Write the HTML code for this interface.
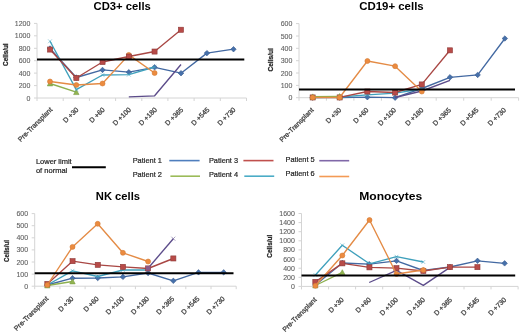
<!DOCTYPE html>
<html><head><meta charset="utf-8"><style>
html,body{margin:0;padding:0;background:#fff;width:520px;height:334px;overflow:hidden}
svg{display:block;will-change:transform;filter:blur(0.3px)}
</style></head><body>
<svg width="520" height="334" viewBox="0 0 520 334">
<rect width="520" height="334" fill="#fff"/>
<text x="93.5" y="10" textLength="57.30000000000001" lengthAdjust="spacingAndGlyphs" font-family='"Liberation Sans", sans-serif' font-weight="bold" font-size="11.5" fill="#000">CD3+ cells</text>
<line x1="37" y1="23.4" x2="37" y2="98" stroke="#D4D4D4" stroke-width="1"/>
<line x1="34" y1="98.0" x2="37" y2="98.0" stroke="#D4D4D4" stroke-width="1"/>
<text x="30.4" y="100.5" text-anchor="end" font-family='"Liberation Sans", sans-serif' font-size="7" fill="#606060" stroke="#606060" stroke-width="0.1">0</text>
<line x1="34" y1="85.6" x2="37" y2="85.6" stroke="#D4D4D4" stroke-width="1"/>
<text x="30.4" y="88.1" text-anchor="end" font-family='"Liberation Sans", sans-serif' font-size="7" fill="#606060" stroke="#606060" stroke-width="0.1">200</text>
<line x1="34" y1="73.1" x2="37" y2="73.1" stroke="#D4D4D4" stroke-width="1"/>
<text x="30.4" y="75.6" text-anchor="end" font-family='"Liberation Sans", sans-serif' font-size="7" fill="#606060" stroke="#606060" stroke-width="0.1">400</text>
<line x1="34" y1="60.7" x2="37" y2="60.7" stroke="#D4D4D4" stroke-width="1"/>
<text x="30.4" y="63.2" text-anchor="end" font-family='"Liberation Sans", sans-serif' font-size="7" fill="#606060" stroke="#606060" stroke-width="0.1">600</text>
<line x1="34" y1="48.3" x2="37" y2="48.3" stroke="#D4D4D4" stroke-width="1"/>
<text x="30.4" y="50.8" text-anchor="end" font-family='"Liberation Sans", sans-serif' font-size="7" fill="#606060" stroke="#606060" stroke-width="0.1">800</text>
<line x1="34" y1="35.8" x2="37" y2="35.8" stroke="#D4D4D4" stroke-width="1"/>
<text x="30.4" y="38.3" text-anchor="end" font-family='"Liberation Sans", sans-serif' font-size="7" fill="#606060" stroke="#606060" stroke-width="0.1">1000</text>
<line x1="34" y1="23.4" x2="37" y2="23.4" stroke="#D4D4D4" stroke-width="1"/>
<text x="30.4" y="25.9" text-anchor="end" font-family='"Liberation Sans", sans-serif' font-size="7" fill="#606060" stroke="#606060" stroke-width="0.1">1200</text>
<line x1="37" y1="98" x2="246.5" y2="98" stroke="#D4D4D4" stroke-width="1"/>
<line x1="37.0" y1="98" x2="37.0" y2="101" stroke="#D4D4D4" stroke-width="1"/>
<line x1="63.2" y1="98" x2="63.2" y2="101" stroke="#D4D4D4" stroke-width="1"/>
<line x1="89.4" y1="98" x2="89.4" y2="101" stroke="#D4D4D4" stroke-width="1"/>
<line x1="115.6" y1="98" x2="115.6" y2="101" stroke="#D4D4D4" stroke-width="1"/>
<line x1="141.8" y1="98" x2="141.8" y2="101" stroke="#D4D4D4" stroke-width="1"/>
<line x1="167.9" y1="98" x2="167.9" y2="101" stroke="#D4D4D4" stroke-width="1"/>
<line x1="194.1" y1="98" x2="194.1" y2="101" stroke="#D4D4D4" stroke-width="1"/>
<line x1="220.3" y1="98" x2="220.3" y2="101" stroke="#D4D4D4" stroke-width="1"/>
<line x1="246.5" y1="98" x2="246.5" y2="101" stroke="#D4D4D4" stroke-width="1"/>
<text transform="translate(49.1,106.5) rotate(-45)" x="0" y="5.2" text-anchor="end" font-family='"Liberation Sans", sans-serif' font-size="6.9" fill="#454545" stroke="#454545" stroke-width="0.3">Pre-Transplant</text>
<text transform="translate(75.3,106.5) rotate(-45)" x="0" y="5.2" text-anchor="end" font-family='"Liberation Sans", sans-serif' font-size="6.9" fill="#454545" stroke="#454545" stroke-width="0.3">D +30</text>
<text transform="translate(101.5,106.5) rotate(-45)" x="0" y="5.2" text-anchor="end" font-family='"Liberation Sans", sans-serif' font-size="6.9" fill="#454545" stroke="#454545" stroke-width="0.3">D +60</text>
<text transform="translate(127.7,106.5) rotate(-45)" x="0" y="5.2" text-anchor="end" font-family='"Liberation Sans", sans-serif' font-size="6.9" fill="#454545" stroke="#454545" stroke-width="0.3">D +100</text>
<text transform="translate(153.8,106.5) rotate(-45)" x="0" y="5.2" text-anchor="end" font-family='"Liberation Sans", sans-serif' font-size="6.9" fill="#454545" stroke="#454545" stroke-width="0.3">D +180</text>
<text transform="translate(180.0,106.5) rotate(-45)" x="0" y="5.2" text-anchor="end" font-family='"Liberation Sans", sans-serif' font-size="6.9" fill="#454545" stroke="#454545" stroke-width="0.3">D +365</text>
<text transform="translate(206.2,106.5) rotate(-45)" x="0" y="5.2" text-anchor="end" font-family='"Liberation Sans", sans-serif' font-size="6.9" fill="#454545" stroke="#454545" stroke-width="0.3">D +545</text>
<text transform="translate(232.4,106.5) rotate(-45)" x="0" y="5.2" text-anchor="end" font-family='"Liberation Sans", sans-serif' font-size="6.9" fill="#454545" stroke="#454545" stroke-width="0.3">D +730</text>
<text transform="translate(7.5,54.7) rotate(-90)" x="-11.2" textLength="22.5" lengthAdjust="spacingAndGlyphs" font-family='"Liberation Sans", sans-serif' font-weight="bold" font-size="8" fill="#262626" stroke="#262626" stroke-width="0.25">Cells/ul</text>
<path d="M50.0 48.5L76.3 77.5L102.5 69.9L128.8 72.2L154.6 67.3L181.0 73.2L206.9 53.1L233.5 49.2" fill="none" stroke="#4369A2" stroke-width="1.35" stroke-linejoin="round"/>
<path d="M50.0 45.8L52.8 48.5L50.0 51.2L47.2 48.5Z" fill="#4670AA" stroke="#3A5C8E" stroke-width="0.6"/>
<path d="M76.3 74.8L79.0 77.5L76.3 80.2L73.5 77.5Z" fill="#4670AA" stroke="#3A5C8E" stroke-width="0.6"/>
<path d="M102.5 67.2L105.2 69.9L102.5 72.7L99.8 69.9Z" fill="#4670AA" stroke="#3A5C8E" stroke-width="0.6"/>
<path d="M128.8 69.5L131.6 72.2L128.8 75.0L126.1 72.2Z" fill="#4670AA" stroke="#3A5C8E" stroke-width="0.6"/>
<path d="M154.6 64.5L157.3 67.3L154.6 70.0L151.8 67.3Z" fill="#4670AA" stroke="#3A5C8E" stroke-width="0.6"/>
<path d="M181.0 70.5L183.8 73.2L181.0 76.0L178.2 73.2Z" fill="#4670AA" stroke="#3A5C8E" stroke-width="0.6"/>
<path d="M206.9 50.4L209.7 53.1L206.9 55.9L204.2 53.1Z" fill="#4670AA" stroke="#3A5C8E" stroke-width="0.6"/>
<path d="M233.5 46.5L236.2 49.2L233.5 52.0L230.8 49.2Z" fill="#4670AA" stroke="#3A5C8E" stroke-width="0.6"/>
<path d="M50.0 83.5L76.3 92.2" fill="none" stroke="#8DB04F" stroke-width="1.35" stroke-linejoin="round"/>
<path d="M50.0 80.8L52.7 85.9L47.3 85.9Z" fill="#92B550" stroke="#7A9A45" stroke-width="0.6"/>
<path d="M76.3 89.5L79.0 94.6L73.6 94.6Z" fill="#92B550" stroke="#7A9A45" stroke-width="0.6"/>
<path d="M50.0 41.3L76.3 89.6L102.5 75.0L128.8 74.7L154.6 67.0" fill="none" stroke="#3FA0BC" stroke-width="1.35" stroke-linejoin="round"/>
<path d="M48.1 39.4L51.9 43.2M51.9 39.4L48.1 43.2" stroke="#45A5C0" stroke-width="0.7" opacity="0.75"/>
<path d="M74.4 87.7L78.2 91.5M78.2 87.7L74.4 91.5" stroke="#45A5C0" stroke-width="0.7" opacity="0.75"/>
<path d="M100.6 73.1L104.4 76.9M104.4 73.1L100.6 76.9" stroke="#45A5C0" stroke-width="0.7" opacity="0.75"/>
<path d="M126.9 72.8L130.7 76.6M130.7 72.8L126.9 76.6" stroke="#45A5C0" stroke-width="0.7" opacity="0.75"/>
<path d="M152.7 65.1L156.5 68.9M156.5 65.1L152.7 68.9" stroke="#45A5C0" stroke-width="0.7" opacity="0.75"/>
<path d="M128.8 96.8L154.6 95.8L181.0 64.5" fill="none" stroke="#5C4C8A" stroke-width="1.35" stroke-linejoin="round"/>
<path d="M50.0 81.5L76.3 85.0L102.5 83.5L128.8 54.9L154.6 73.0" fill="none" stroke="#E48B45" stroke-width="1.35" stroke-linejoin="round"/>
<circle cx="50.0" cy="81.5" r="2.5" fill="#EC8B3F" stroke="#D27A36" stroke-width="0.6"/>
<circle cx="76.3" cy="85.0" r="2.5" fill="#EC8B3F" stroke="#D27A36" stroke-width="0.6"/>
<circle cx="102.5" cy="83.5" r="2.5" fill="#EC8B3F" stroke="#D27A36" stroke-width="0.6"/>
<circle cx="128.8" cy="54.9" r="2.5" fill="#EC8B3F" stroke="#D27A36" stroke-width="0.6"/>
<circle cx="154.6" cy="73.0" r="2.5" fill="#EC8B3F" stroke="#D27A36" stroke-width="0.6"/>
<path d="M50.0 49.5L76.3 78.0L102.5 62.0L128.8 56.5L154.6 51.5L181.0 29.8" fill="none" stroke="#A94744" stroke-width="1.35" stroke-linejoin="round"/>
<rect x="47.5" y="47.0" width="5.1" height="5.1" fill="#B84B48" stroke="#8E3A38" stroke-width="0.6"/>
<rect x="73.8" y="75.5" width="5.1" height="5.1" fill="#B84B48" stroke="#8E3A38" stroke-width="0.6"/>
<rect x="100.0" y="59.5" width="5.1" height="5.1" fill="#B84B48" stroke="#8E3A38" stroke-width="0.6"/>
<rect x="126.3" y="54.0" width="5.1" height="5.1" fill="#B84B48" stroke="#8E3A38" stroke-width="0.6"/>
<rect x="152.0" y="49.0" width="5.1" height="5.1" fill="#B84B48" stroke="#8E3A38" stroke-width="0.6"/>
<rect x="178.4" y="27.2" width="5.1" height="5.1" fill="#B84B48" stroke="#8E3A38" stroke-width="0.6"/>
<line x1="37" y1="59.5" x2="244.3" y2="59.5" stroke="#000" stroke-width="2"/>
<text x="359.2" y="10" textLength="64.5" lengthAdjust="spacingAndGlyphs" font-family='"Liberation Sans", sans-serif' font-weight="bold" font-size="11.5" fill="#000">CD19+ cells</text>
<line x1="299" y1="23.6" x2="299" y2="97.7" stroke="#D4D4D4" stroke-width="1"/>
<line x1="296" y1="97.7" x2="299" y2="97.7" stroke="#D4D4D4" stroke-width="1"/>
<text x="292.4" y="100.2" text-anchor="end" font-family='"Liberation Sans", sans-serif' font-size="7" fill="#606060" stroke="#606060" stroke-width="0.1">0</text>
<line x1="296" y1="85.4" x2="299" y2="85.4" stroke="#D4D4D4" stroke-width="1"/>
<text x="292.4" y="87.9" text-anchor="end" font-family='"Liberation Sans", sans-serif' font-size="7" fill="#606060" stroke="#606060" stroke-width="0.1">100</text>
<line x1="296" y1="73.0" x2="299" y2="73.0" stroke="#D4D4D4" stroke-width="1"/>
<text x="292.4" y="75.5" text-anchor="end" font-family='"Liberation Sans", sans-serif' font-size="7" fill="#606060" stroke="#606060" stroke-width="0.1">200</text>
<line x1="296" y1="60.7" x2="299" y2="60.7" stroke="#D4D4D4" stroke-width="1"/>
<text x="292.4" y="63.2" text-anchor="end" font-family='"Liberation Sans", sans-serif' font-size="7" fill="#606060" stroke="#606060" stroke-width="0.1">300</text>
<line x1="296" y1="48.3" x2="299" y2="48.3" stroke="#D4D4D4" stroke-width="1"/>
<text x="292.4" y="50.8" text-anchor="end" font-family='"Liberation Sans", sans-serif' font-size="7" fill="#606060" stroke="#606060" stroke-width="0.1">400</text>
<line x1="296" y1="36.0" x2="299" y2="36.0" stroke="#D4D4D4" stroke-width="1"/>
<text x="292.4" y="38.5" text-anchor="end" font-family='"Liberation Sans", sans-serif' font-size="7" fill="#606060" stroke="#606060" stroke-width="0.1">500</text>
<line x1="296" y1="23.6" x2="299" y2="23.6" stroke="#D4D4D4" stroke-width="1"/>
<text x="292.4" y="26.1" text-anchor="end" font-family='"Liberation Sans", sans-serif' font-size="7" fill="#606060" stroke="#606060" stroke-width="0.1">600</text>
<line x1="299" y1="97.7" x2="518.6" y2="97.7" stroke="#D4D4D4" stroke-width="1"/>
<line x1="299.0" y1="97.7" x2="299.0" y2="100.7" stroke="#D4D4D4" stroke-width="1"/>
<line x1="326.4" y1="97.7" x2="326.4" y2="100.7" stroke="#D4D4D4" stroke-width="1"/>
<line x1="353.9" y1="97.7" x2="353.9" y2="100.7" stroke="#D4D4D4" stroke-width="1"/>
<line x1="381.4" y1="97.7" x2="381.4" y2="100.7" stroke="#D4D4D4" stroke-width="1"/>
<line x1="408.8" y1="97.7" x2="408.8" y2="100.7" stroke="#D4D4D4" stroke-width="1"/>
<line x1="436.2" y1="97.7" x2="436.2" y2="100.7" stroke="#D4D4D4" stroke-width="1"/>
<line x1="463.7" y1="97.7" x2="463.7" y2="100.7" stroke="#D4D4D4" stroke-width="1"/>
<line x1="491.2" y1="97.7" x2="491.2" y2="100.7" stroke="#D4D4D4" stroke-width="1"/>
<line x1="518.6" y1="97.7" x2="518.6" y2="100.7" stroke="#D4D4D4" stroke-width="1"/>
<text transform="translate(310.5,106.8) rotate(-45)" x="0" y="5.2" text-anchor="end" font-family='"Liberation Sans", sans-serif' font-size="6.9" fill="#454545" stroke="#454545" stroke-width="0.3">Pre-Transplant</text>
<text transform="translate(338.0,106.8) rotate(-45)" x="0" y="5.2" text-anchor="end" font-family='"Liberation Sans", sans-serif' font-size="6.9" fill="#454545" stroke="#454545" stroke-width="0.3">D +30</text>
<text transform="translate(365.4,106.8) rotate(-45)" x="0" y="5.2" text-anchor="end" font-family='"Liberation Sans", sans-serif' font-size="6.9" fill="#454545" stroke="#454545" stroke-width="0.3">D +60</text>
<text transform="translate(392.9,106.8) rotate(-45)" x="0" y="5.2" text-anchor="end" font-family='"Liberation Sans", sans-serif' font-size="6.9" fill="#454545" stroke="#454545" stroke-width="0.3">D +100</text>
<text transform="translate(420.3,106.8) rotate(-45)" x="0" y="5.2" text-anchor="end" font-family='"Liberation Sans", sans-serif' font-size="6.9" fill="#454545" stroke="#454545" stroke-width="0.3">D +180</text>
<text transform="translate(447.8,106.8) rotate(-45)" x="0" y="5.2" text-anchor="end" font-family='"Liberation Sans", sans-serif' font-size="6.9" fill="#454545" stroke="#454545" stroke-width="0.3">D +365</text>
<text transform="translate(475.2,106.8) rotate(-45)" x="0" y="5.2" text-anchor="end" font-family='"Liberation Sans", sans-serif' font-size="6.9" fill="#454545" stroke="#454545" stroke-width="0.3">D +545</text>
<text transform="translate(502.7,106.8) rotate(-45)" x="0" y="5.2" text-anchor="end" font-family='"Liberation Sans", sans-serif' font-size="6.9" fill="#454545" stroke="#454545" stroke-width="0.3">D +730</text>
<text transform="translate(272.8,59.8) rotate(-90)" x="-11.8" textLength="23.5" lengthAdjust="spacingAndGlyphs" font-family='"Liberation Sans", sans-serif' font-weight="bold" font-size="8" fill="#262626" stroke="#262626" stroke-width="0.25">Cells/ul</text>
<path d="M312.7 97.6L339.6 97.6L367.4 97.2L395.1 97.7L421.8 88.5L450.0 77.3L477.7 74.9L504.9 38.5" fill="none" stroke="#4369A2" stroke-width="1.35" stroke-linejoin="round"/>
<path d="M312.7 94.8L315.4 97.6L312.7 100.3L309.9 97.6Z" fill="#4670AA" stroke="#3A5C8E" stroke-width="0.6"/>
<path d="M339.6 94.8L342.4 97.6L339.6 100.3L336.9 97.6Z" fill="#4670AA" stroke="#3A5C8E" stroke-width="0.6"/>
<path d="M367.4 94.5L370.1 97.2L367.4 100.0L364.6 97.2Z" fill="#4670AA" stroke="#3A5C8E" stroke-width="0.6"/>
<path d="M395.1 95.0L397.9 97.7L395.1 100.5L392.4 97.7Z" fill="#4670AA" stroke="#3A5C8E" stroke-width="0.6"/>
<path d="M421.8 85.8L424.6 88.5L421.8 91.2L419.1 88.5Z" fill="#4670AA" stroke="#3A5C8E" stroke-width="0.6"/>
<path d="M450.0 74.5L452.8 77.3L450.0 80.0L447.2 77.3Z" fill="#4670AA" stroke="#3A5C8E" stroke-width="0.6"/>
<path d="M477.7 72.2L480.4 74.9L477.7 77.7L474.9 74.9Z" fill="#4670AA" stroke="#3A5C8E" stroke-width="0.6"/>
<path d="M504.9 35.8L507.6 38.5L504.9 41.2L502.1 38.5Z" fill="#4670AA" stroke="#3A5C8E" stroke-width="0.6"/>
<path d="M312.7 97.5L339.6 97.0L367.4 94.9L395.1 93.2L421.8 89.0" fill="none" stroke="#3FA0BC" stroke-width="1.35" stroke-linejoin="round"/>
<path d="M310.8 95.6L314.6 99.4M314.6 95.6L310.8 99.4" stroke="#45A5C0" stroke-width="0.7" opacity="0.75"/>
<path d="M337.7 95.1L341.5 98.9M341.5 95.1L337.7 98.9" stroke="#45A5C0" stroke-width="0.7" opacity="0.75"/>
<path d="M365.5 93.0L369.3 96.8M369.3 93.0L365.5 96.8" stroke="#45A5C0" stroke-width="0.7" opacity="0.75"/>
<path d="M393.2 91.3L397.0 95.1M397.0 91.3L393.2 95.1" stroke="#45A5C0" stroke-width="0.7" opacity="0.75"/>
<path d="M419.9 87.1L423.7 90.9M423.7 87.1L419.9 90.9" stroke="#45A5C0" stroke-width="0.7" opacity="0.75"/>
<path d="M395.1 97.5L421.8 91.0L450.0 80.3" fill="none" stroke="#5C4C8A" stroke-width="1.35" stroke-linejoin="round"/>
<path d="M312.7 97.4L339.6 97.4L367.4 91.5L395.1 92.5L421.8 84.4L450.0 50.3" fill="none" stroke="#A94744" stroke-width="1.35" stroke-linejoin="round"/>
<rect x="310.1" y="94.9" width="5.1" height="5.1" fill="#B84B48" stroke="#8E3A38" stroke-width="0.6"/>
<rect x="337.1" y="94.9" width="5.1" height="5.1" fill="#B84B48" stroke="#8E3A38" stroke-width="0.6"/>
<rect x="364.8" y="89.0" width="5.1" height="5.1" fill="#B84B48" stroke="#8E3A38" stroke-width="0.6"/>
<rect x="392.6" y="90.0" width="5.1" height="5.1" fill="#B84B48" stroke="#8E3A38" stroke-width="0.6"/>
<rect x="419.2" y="81.9" width="5.1" height="5.1" fill="#B84B48" stroke="#8E3A38" stroke-width="0.6"/>
<rect x="447.4" y="47.8" width="5.1" height="5.1" fill="#B84B48" stroke="#8E3A38" stroke-width="0.6"/>
<path d="M312.7 96.6L339.6 96.3" fill="none" stroke="#8DB04F" stroke-width="1.35" stroke-linejoin="round"/>
<path d="M312.7 93.9L315.4 99.0L310.0 99.0Z" fill="#92B550" stroke="#7A9A45" stroke-width="0.6"/>
<path d="M339.6 93.6L342.3 98.7L336.9 98.7Z" fill="#92B550" stroke="#7A9A45" stroke-width="0.6"/>
<path d="M312.7 97.5L339.6 97.5L367.4 61.0L395.1 66.2L421.8 91.5" fill="none" stroke="#E48B45" stroke-width="1.35" stroke-linejoin="round"/>
<circle cx="312.7" cy="97.5" r="2.5" fill="#EC8B3F" stroke="#D27A36" stroke-width="0.6"/>
<circle cx="339.6" cy="97.5" r="2.5" fill="#EC8B3F" stroke="#D27A36" stroke-width="0.6"/>
<circle cx="367.4" cy="61.0" r="2.5" fill="#EC8B3F" stroke="#D27A36" stroke-width="0.6"/>
<circle cx="395.1" cy="66.2" r="2.5" fill="#EC8B3F" stroke="#D27A36" stroke-width="0.6"/>
<circle cx="421.8" cy="91.5" r="2.5" fill="#EC8B3F" stroke="#D27A36" stroke-width="0.6"/>
<line x1="299" y1="89.4" x2="515" y2="89.4" stroke="#000" stroke-width="2"/>
<text x="95.8" y="199.6" textLength="44.2" lengthAdjust="spacingAndGlyphs" font-family='"Liberation Sans", sans-serif' font-weight="bold" font-size="11.5" fill="#000">NK cells</text>
<line x1="34.7" y1="213.6" x2="34.7" y2="286.2" stroke="#D4D4D4" stroke-width="1"/>
<line x1="31.700000000000003" y1="286.2" x2="34.7" y2="286.2" stroke="#D4D4D4" stroke-width="1"/>
<text x="28.1" y="288.7" text-anchor="end" font-family='"Liberation Sans", sans-serif' font-size="7" fill="#606060" stroke="#606060" stroke-width="0.1">0</text>
<line x1="31.700000000000003" y1="274.1" x2="34.7" y2="274.1" stroke="#D4D4D4" stroke-width="1"/>
<text x="28.1" y="276.6" text-anchor="end" font-family='"Liberation Sans", sans-serif' font-size="7" fill="#606060" stroke="#606060" stroke-width="0.1">100</text>
<line x1="31.700000000000003" y1="262.0" x2="34.7" y2="262.0" stroke="#D4D4D4" stroke-width="1"/>
<text x="28.1" y="264.5" text-anchor="end" font-family='"Liberation Sans", sans-serif' font-size="7" fill="#606060" stroke="#606060" stroke-width="0.1">200</text>
<line x1="31.700000000000003" y1="249.9" x2="34.7" y2="249.9" stroke="#D4D4D4" stroke-width="1"/>
<text x="28.1" y="252.4" text-anchor="end" font-family='"Liberation Sans", sans-serif' font-size="7" fill="#606060" stroke="#606060" stroke-width="0.1">300</text>
<line x1="31.700000000000003" y1="237.8" x2="34.7" y2="237.8" stroke="#D4D4D4" stroke-width="1"/>
<text x="28.1" y="240.3" text-anchor="end" font-family='"Liberation Sans", sans-serif' font-size="7" fill="#606060" stroke="#606060" stroke-width="0.1">400</text>
<line x1="31.700000000000003" y1="225.7" x2="34.7" y2="225.7" stroke="#D4D4D4" stroke-width="1"/>
<text x="28.1" y="228.2" text-anchor="end" font-family='"Liberation Sans", sans-serif' font-size="7" fill="#606060" stroke="#606060" stroke-width="0.1">500</text>
<line x1="31.700000000000003" y1="213.6" x2="34.7" y2="213.6" stroke="#D4D4D4" stroke-width="1"/>
<text x="28.1" y="216.1" text-anchor="end" font-family='"Liberation Sans", sans-serif' font-size="7" fill="#606060" stroke="#606060" stroke-width="0.1">600</text>
<line x1="34.7" y1="286.2" x2="236.2" y2="286.2" stroke="#D4D4D4" stroke-width="1"/>
<line x1="34.7" y1="286.2" x2="34.7" y2="289.2" stroke="#D4D4D4" stroke-width="1"/>
<line x1="59.9" y1="286.2" x2="59.9" y2="289.2" stroke="#D4D4D4" stroke-width="1"/>
<line x1="85.1" y1="286.2" x2="85.1" y2="289.2" stroke="#D4D4D4" stroke-width="1"/>
<line x1="110.3" y1="286.2" x2="110.3" y2="289.2" stroke="#D4D4D4" stroke-width="1"/>
<line x1="135.4" y1="286.2" x2="135.4" y2="289.2" stroke="#D4D4D4" stroke-width="1"/>
<line x1="160.6" y1="286.2" x2="160.6" y2="289.2" stroke="#D4D4D4" stroke-width="1"/>
<line x1="185.8" y1="286.2" x2="185.8" y2="289.2" stroke="#D4D4D4" stroke-width="1"/>
<line x1="211.0" y1="286.2" x2="211.0" y2="289.2" stroke="#D4D4D4" stroke-width="1"/>
<line x1="236.2" y1="286.2" x2="236.2" y2="289.2" stroke="#D4D4D4" stroke-width="1"/>
<text transform="translate(45.2,295.5) rotate(-45)" x="0" y="5.2" text-anchor="end" font-family='"Liberation Sans", sans-serif' font-size="6.9" fill="#454545" stroke="#454545" stroke-width="0.3">Pre-Transplant</text>
<text transform="translate(70.4,295.5) rotate(-45)" x="0" y="5.2" text-anchor="end" font-family='"Liberation Sans", sans-serif' font-size="6.9" fill="#454545" stroke="#454545" stroke-width="0.3">D +30</text>
<text transform="translate(95.6,295.5) rotate(-45)" x="0" y="5.2" text-anchor="end" font-family='"Liberation Sans", sans-serif' font-size="6.9" fill="#454545" stroke="#454545" stroke-width="0.3">D +60</text>
<text transform="translate(120.8,295.5) rotate(-45)" x="0" y="5.2" text-anchor="end" font-family='"Liberation Sans", sans-serif' font-size="6.9" fill="#454545" stroke="#454545" stroke-width="0.3">D +100</text>
<text transform="translate(145.9,295.5) rotate(-45)" x="0" y="5.2" text-anchor="end" font-family='"Liberation Sans", sans-serif' font-size="6.9" fill="#454545" stroke="#454545" stroke-width="0.3">D +180</text>
<text transform="translate(171.1,295.5) rotate(-45)" x="0" y="5.2" text-anchor="end" font-family='"Liberation Sans", sans-serif' font-size="6.9" fill="#454545" stroke="#454545" stroke-width="0.3">D +365</text>
<text transform="translate(196.3,295.5) rotate(-45)" x="0" y="5.2" text-anchor="end" font-family='"Liberation Sans", sans-serif' font-size="6.9" fill="#454545" stroke="#454545" stroke-width="0.3">D +545</text>
<text transform="translate(221.5,295.5) rotate(-45)" x="0" y="5.2" text-anchor="end" font-family='"Liberation Sans", sans-serif' font-size="6.9" fill="#454545" stroke="#454545" stroke-width="0.3">D +730</text>
<text transform="translate(8.7,251) rotate(-90)" x="-11.0" textLength="22" lengthAdjust="spacingAndGlyphs" font-family='"Liberation Sans", sans-serif' font-weight="bold" font-size="8" fill="#262626" stroke="#262626" stroke-width="0.25">Cells/ul</text>
<path d="M47.3 285.0L72.5 278.2L97.7 278.0L122.9 276.9L148.1 273.0L173.3 280.8L198.5 272.4L223.7 272.4" fill="none" stroke="#4369A2" stroke-width="1.35" stroke-linejoin="round"/>
<path d="M47.3 282.2L50.0 285.0L47.3 287.8L44.5 285.0Z" fill="#4670AA" stroke="#3A5C8E" stroke-width="0.6"/>
<path d="M72.5 275.4L75.2 278.2L72.5 280.9L69.8 278.2Z" fill="#4670AA" stroke="#3A5C8E" stroke-width="0.6"/>
<path d="M97.7 275.2L100.5 278.0L97.7 280.8L95.0 278.0Z" fill="#4670AA" stroke="#3A5C8E" stroke-width="0.6"/>
<path d="M122.9 274.1L125.7 276.9L122.9 279.6L120.2 276.9Z" fill="#4670AA" stroke="#3A5C8E" stroke-width="0.6"/>
<path d="M148.1 270.2L150.8 273.0L148.1 275.8L145.3 273.0Z" fill="#4670AA" stroke="#3A5C8E" stroke-width="0.6"/>
<path d="M173.3 278.1L176.1 280.8L173.3 283.6L170.6 280.8Z" fill="#4670AA" stroke="#3A5C8E" stroke-width="0.6"/>
<path d="M198.5 269.6L201.2 272.4L198.5 275.1L195.8 272.4Z" fill="#4670AA" stroke="#3A5C8E" stroke-width="0.6"/>
<path d="M223.7 269.6L226.4 272.4L223.7 275.1L220.9 272.4Z" fill="#4670AA" stroke="#3A5C8E" stroke-width="0.6"/>
<path d="M47.3 285.5L72.5 281.5" fill="none" stroke="#8DB04F" stroke-width="1.35" stroke-linejoin="round"/>
<path d="M47.3 282.8L50.0 287.9L44.6 287.9Z" fill="#92B550" stroke="#7A9A45" stroke-width="0.6"/>
<path d="M72.5 278.8L75.2 283.9L69.8 283.9Z" fill="#92B550" stroke="#7A9A45" stroke-width="0.6"/>
<path d="M47.3 285.0L72.5 270.8L97.7 276.5L122.9 270.0L148.1 270.0" fill="none" stroke="#3FA0BC" stroke-width="1.35" stroke-linejoin="round"/>
<path d="M45.4 283.1L49.2 286.9M49.2 283.1L45.4 286.9" stroke="#45A5C0" stroke-width="0.7" opacity="0.75"/>
<path d="M70.6 268.9L74.4 272.7M74.4 268.9L70.6 272.7" stroke="#45A5C0" stroke-width="0.7" opacity="0.75"/>
<path d="M95.8 274.6L99.6 278.4M99.6 274.6L95.8 278.4" stroke="#45A5C0" stroke-width="0.7" opacity="0.75"/>
<path d="M121.0 268.1L124.8 271.9M124.8 268.1L121.0 271.9" stroke="#45A5C0" stroke-width="0.7" opacity="0.75"/>
<path d="M146.2 268.1L150.0 271.9M150.0 268.1L146.2 271.9" stroke="#45A5C0" stroke-width="0.7" opacity="0.75"/>
<path d="M148.1 268.2L173.3 238.7" fill="none" stroke="#5C4C8A" stroke-width="1.35" stroke-linejoin="round"/>
<path d="M47.3 284.0L72.5 261.2L97.7 264.9L122.9 266.9L148.1 268.5L173.3 258.5" fill="none" stroke="#A94744" stroke-width="1.35" stroke-linejoin="round"/>
<rect x="44.8" y="281.4" width="5.1" height="5.1" fill="#B84B48" stroke="#8E3A38" stroke-width="0.6"/>
<rect x="70.0" y="258.6" width="5.1" height="5.1" fill="#B84B48" stroke="#8E3A38" stroke-width="0.6"/>
<rect x="95.2" y="262.3" width="5.1" height="5.1" fill="#B84B48" stroke="#8E3A38" stroke-width="0.6"/>
<rect x="120.4" y="264.3" width="5.1" height="5.1" fill="#B84B48" stroke="#8E3A38" stroke-width="0.6"/>
<rect x="145.5" y="265.9" width="5.1" height="5.1" fill="#B84B48" stroke="#8E3A38" stroke-width="0.6"/>
<rect x="170.8" y="255.9" width="5.1" height="5.1" fill="#B84B48" stroke="#8E3A38" stroke-width="0.6"/>
<path d="M47.3 285.0L72.5 246.9L97.7 223.8L122.9 252.8L148.1 261.5" fill="none" stroke="#E48B45" stroke-width="1.35" stroke-linejoin="round"/>
<circle cx="47.3" cy="285.0" r="2.5" fill="#EC8B3F" stroke="#D27A36" stroke-width="0.6"/>
<circle cx="72.5" cy="246.9" r="2.5" fill="#EC8B3F" stroke="#D27A36" stroke-width="0.6"/>
<circle cx="97.7" cy="223.8" r="2.5" fill="#EC8B3F" stroke="#D27A36" stroke-width="0.6"/>
<circle cx="122.9" cy="252.8" r="2.5" fill="#EC8B3F" stroke="#D27A36" stroke-width="0.6"/>
<circle cx="148.1" cy="261.5" r="2.5" fill="#EC8B3F" stroke="#D27A36" stroke-width="0.6"/>
<line x1="34.7" y1="273.2" x2="233.5" y2="273.2" stroke="#000" stroke-width="2"/>
<rect x="145.8" y="265.9" width="4.6" height="4.6" fill="#8A5A8A"/>
<path d="M171.3 236.7L175.3 240.7M175.3 236.7L171.3 240.7" stroke="#5C4C8A" stroke-width="0.7" opacity="0.75"/>
<text x="359.2" y="200.2" textLength="63.10000000000002" lengthAdjust="spacingAndGlyphs" font-family='"Liberation Sans", sans-serif' font-weight="bold" font-size="11.5" fill="#000">Monocytes</text>
<line x1="301.5" y1="213.5" x2="301.5" y2="286.4" stroke="#D4D4D4" stroke-width="1"/>
<line x1="298.5" y1="286.4" x2="301.5" y2="286.4" stroke="#D4D4D4" stroke-width="1"/>
<text x="294.9" y="288.9" text-anchor="end" font-family='"Liberation Sans", sans-serif' font-size="7" fill="#606060" stroke="#606060" stroke-width="0.1">0</text>
<line x1="298.5" y1="277.3" x2="301.5" y2="277.3" stroke="#D4D4D4" stroke-width="1"/>
<text x="294.9" y="279.8" text-anchor="end" font-family='"Liberation Sans", sans-serif' font-size="7" fill="#606060" stroke="#606060" stroke-width="0.1">200</text>
<line x1="298.5" y1="268.2" x2="301.5" y2="268.2" stroke="#D4D4D4" stroke-width="1"/>
<text x="294.9" y="270.7" text-anchor="end" font-family='"Liberation Sans", sans-serif' font-size="7" fill="#606060" stroke="#606060" stroke-width="0.1">400</text>
<line x1="298.5" y1="259.1" x2="301.5" y2="259.1" stroke="#D4D4D4" stroke-width="1"/>
<text x="294.9" y="261.6" text-anchor="end" font-family='"Liberation Sans", sans-serif' font-size="7" fill="#606060" stroke="#606060" stroke-width="0.1">600</text>
<line x1="298.5" y1="249.9" x2="301.5" y2="249.9" stroke="#D4D4D4" stroke-width="1"/>
<text x="294.9" y="252.4" text-anchor="end" font-family='"Liberation Sans", sans-serif' font-size="7" fill="#606060" stroke="#606060" stroke-width="0.1">800</text>
<line x1="298.5" y1="240.8" x2="301.5" y2="240.8" stroke="#D4D4D4" stroke-width="1"/>
<text x="294.9" y="243.3" text-anchor="end" font-family='"Liberation Sans", sans-serif' font-size="7" fill="#606060" stroke="#606060" stroke-width="0.1">1000</text>
<line x1="298.5" y1="231.7" x2="301.5" y2="231.7" stroke="#D4D4D4" stroke-width="1"/>
<text x="294.9" y="234.2" text-anchor="end" font-family='"Liberation Sans", sans-serif' font-size="7" fill="#606060" stroke="#606060" stroke-width="0.1">1200</text>
<line x1="298.5" y1="222.6" x2="301.5" y2="222.6" stroke="#D4D4D4" stroke-width="1"/>
<text x="294.9" y="225.1" text-anchor="end" font-family='"Liberation Sans", sans-serif' font-size="7" fill="#606060" stroke="#606060" stroke-width="0.1">1400</text>
<line x1="298.5" y1="213.5" x2="301.5" y2="213.5" stroke="#D4D4D4" stroke-width="1"/>
<text x="294.9" y="216.0" text-anchor="end" font-family='"Liberation Sans", sans-serif' font-size="7" fill="#606060" stroke="#606060" stroke-width="0.1">1600</text>
<line x1="301.5" y1="286.4" x2="518.1" y2="286.4" stroke="#D4D4D4" stroke-width="1"/>
<line x1="301.5" y1="286.4" x2="301.5" y2="289.4" stroke="#D4D4D4" stroke-width="1"/>
<line x1="328.6" y1="286.4" x2="328.6" y2="289.4" stroke="#D4D4D4" stroke-width="1"/>
<line x1="355.6" y1="286.4" x2="355.6" y2="289.4" stroke="#D4D4D4" stroke-width="1"/>
<line x1="382.7" y1="286.4" x2="382.7" y2="289.4" stroke="#D4D4D4" stroke-width="1"/>
<line x1="409.8" y1="286.4" x2="409.8" y2="289.4" stroke="#D4D4D4" stroke-width="1"/>
<line x1="436.9" y1="286.4" x2="436.9" y2="289.4" stroke="#D4D4D4" stroke-width="1"/>
<line x1="464.0" y1="286.4" x2="464.0" y2="289.4" stroke="#D4D4D4" stroke-width="1"/>
<line x1="491.0" y1="286.4" x2="491.0" y2="289.4" stroke="#D4D4D4" stroke-width="1"/>
<line x1="518.1" y1="286.4" x2="518.1" y2="289.4" stroke="#D4D4D4" stroke-width="1"/>
<text transform="translate(313.5,296.5) rotate(-45)" x="0" y="5.2" text-anchor="end" font-family='"Liberation Sans", sans-serif' font-size="6.9" fill="#454545" stroke="#454545" stroke-width="0.3">Pre-Transplant</text>
<text transform="translate(340.6,296.5) rotate(-45)" x="0" y="5.2" text-anchor="end" font-family='"Liberation Sans", sans-serif' font-size="6.9" fill="#454545" stroke="#454545" stroke-width="0.3">D +30</text>
<text transform="translate(367.7,296.5) rotate(-45)" x="0" y="5.2" text-anchor="end" font-family='"Liberation Sans", sans-serif' font-size="6.9" fill="#454545" stroke="#454545" stroke-width="0.3">D +60</text>
<text transform="translate(394.8,296.5) rotate(-45)" x="0" y="5.2" text-anchor="end" font-family='"Liberation Sans", sans-serif' font-size="6.9" fill="#454545" stroke="#454545" stroke-width="0.3">D +100</text>
<text transform="translate(421.8,296.5) rotate(-45)" x="0" y="5.2" text-anchor="end" font-family='"Liberation Sans", sans-serif' font-size="6.9" fill="#454545" stroke="#454545" stroke-width="0.3">D +180</text>
<text transform="translate(448.9,296.5) rotate(-45)" x="0" y="5.2" text-anchor="end" font-family='"Liberation Sans", sans-serif' font-size="6.9" fill="#454545" stroke="#454545" stroke-width="0.3">D +365</text>
<text transform="translate(476.0,296.5) rotate(-45)" x="0" y="5.2" text-anchor="end" font-family='"Liberation Sans", sans-serif' font-size="6.9" fill="#454545" stroke="#454545" stroke-width="0.3">D +545</text>
<text transform="translate(503.1,296.5) rotate(-45)" x="0" y="5.2" text-anchor="end" font-family='"Liberation Sans", sans-serif' font-size="6.9" fill="#454545" stroke="#454545" stroke-width="0.3">D +730</text>
<text transform="translate(271.8,246.2) rotate(-90)" x="-11.5" textLength="23" lengthAdjust="spacingAndGlyphs" font-family='"Liberation Sans", sans-serif' font-weight="bold" font-size="8" fill="#262626" stroke="#262626" stroke-width="0.25">Cells/ul</text>
<path d="M315.4 285.0L342.3 263.0L369.2 264.2L396.5 260.9L423.3 270.5L450.0 267.0L477.5 260.8L504.6 263.3" fill="none" stroke="#4369A2" stroke-width="1.35" stroke-linejoin="round"/>
<path d="M315.4 282.2L318.1 285.0L315.4 287.8L312.6 285.0Z" fill="#4670AA" stroke="#3A5C8E" stroke-width="0.6"/>
<path d="M342.3 260.2L345.1 263.0L342.3 265.8L339.6 263.0Z" fill="#4670AA" stroke="#3A5C8E" stroke-width="0.6"/>
<path d="M369.2 261.4L371.9 264.2L369.2 266.9L366.4 264.2Z" fill="#4670AA" stroke="#3A5C8E" stroke-width="0.6"/>
<path d="M396.5 258.1L399.2 260.9L396.5 263.6L393.8 260.9Z" fill="#4670AA" stroke="#3A5C8E" stroke-width="0.6"/>
<path d="M423.3 267.8L426.1 270.5L423.3 273.2L420.6 270.5Z" fill="#4670AA" stroke="#3A5C8E" stroke-width="0.6"/>
<path d="M450.0 264.2L452.8 267.0L450.0 269.8L447.2 267.0Z" fill="#4670AA" stroke="#3A5C8E" stroke-width="0.6"/>
<path d="M477.5 258.1L480.2 260.8L477.5 263.6L474.8 260.8Z" fill="#4670AA" stroke="#3A5C8E" stroke-width="0.6"/>
<path d="M504.6 260.6L507.4 263.3L504.6 266.1L501.9 263.3Z" fill="#4670AA" stroke="#3A5C8E" stroke-width="0.6"/>
<path d="M315.4 285.5L342.3 272.4" fill="none" stroke="#8DB04F" stroke-width="1.35" stroke-linejoin="round"/>
<path d="M315.4 282.8L318.1 287.9L312.7 287.9Z" fill="#92B550" stroke="#7A9A45" stroke-width="0.6"/>
<path d="M342.3 269.7L345.0 274.8L339.6 274.8Z" fill="#92B550" stroke="#7A9A45" stroke-width="0.6"/>
<path d="M315.4 275.0L342.3 245.3L369.5 263.8L396.5 256.7L423.3 262.0" fill="none" stroke="#3FA0BC" stroke-width="1.35" stroke-linejoin="round"/>
<path d="M313.5 273.1L317.3 276.9M317.3 273.1L313.5 276.9" stroke="#45A5C0" stroke-width="0.7" opacity="0.75"/>
<path d="M340.4 243.4L344.2 247.2M344.2 243.4L340.4 247.2" stroke="#45A5C0" stroke-width="0.7" opacity="0.75"/>
<path d="M367.6 261.9L371.4 265.7M371.4 261.9L367.6 265.7" stroke="#45A5C0" stroke-width="0.7" opacity="0.75"/>
<path d="M394.6 254.8L398.4 258.6M398.4 254.8L394.6 258.6" stroke="#45A5C0" stroke-width="0.7" opacity="0.75"/>
<path d="M421.4 260.1L425.2 263.9M425.2 260.1L421.4 263.9" stroke="#45A5C0" stroke-width="0.7" opacity="0.75"/>
<path d="M369.2 282.5L396.5 270.3L423.3 285.4L450.0 267.4" fill="none" stroke="#5C4C8A" stroke-width="1.35" stroke-linejoin="round"/>
<path d="M315.4 281.9L342.3 263.4L369.5 267.4L396.5 268.1L423.3 271.0L450.0 267.1L477.5 267.1" fill="none" stroke="#A94744" stroke-width="1.35" stroke-linejoin="round"/>
<rect x="312.8" y="279.3" width="5.1" height="5.1" fill="#B84B48" stroke="#8E3A38" stroke-width="0.6"/>
<rect x="339.8" y="260.8" width="5.1" height="5.1" fill="#B84B48" stroke="#8E3A38" stroke-width="0.6"/>
<rect x="366.9" y="264.8" width="5.1" height="5.1" fill="#B84B48" stroke="#8E3A38" stroke-width="0.6"/>
<rect x="393.9" y="265.6" width="5.1" height="5.1" fill="#B84B48" stroke="#8E3A38" stroke-width="0.6"/>
<rect x="420.8" y="268.4" width="5.1" height="5.1" fill="#B84B48" stroke="#8E3A38" stroke-width="0.6"/>
<rect x="447.4" y="264.6" width="5.1" height="5.1" fill="#B84B48" stroke="#8E3A38" stroke-width="0.6"/>
<rect x="474.9" y="264.6" width="5.1" height="5.1" fill="#B84B48" stroke="#8E3A38" stroke-width="0.6"/>
<path d="M315.4 285.8L342.3 255.5L369.5 220.0L396.5 274.0L423.3 270.0" fill="none" stroke="#E48B45" stroke-width="1.35" stroke-linejoin="round"/>
<circle cx="315.4" cy="285.8" r="2.5" fill="#EC8B3F" stroke="#D27A36" stroke-width="0.6"/>
<circle cx="342.3" cy="255.5" r="2.5" fill="#EC8B3F" stroke="#D27A36" stroke-width="0.6"/>
<circle cx="369.5" cy="220.0" r="2.5" fill="#EC8B3F" stroke="#D27A36" stroke-width="0.6"/>
<circle cx="396.5" cy="274.0" r="2.5" fill="#EC8B3F" stroke="#D27A36" stroke-width="0.6"/>
<circle cx="423.3" cy="270.0" r="2.5" fill="#EC8B3F" stroke="#D27A36" stroke-width="0.6"/>
<line x1="301.5" y1="275.4" x2="515.2" y2="275.4" stroke="#000" stroke-width="2"/>
<text x="35.9" y="164" textLength="35.8" lengthAdjust="spacingAndGlyphs" font-family='"Liberation Sans", sans-serif' font-size="7.4" fill="#1e1e1e" stroke="#1e1e1e" stroke-width="0.2">Lower limit</text>
<text x="35.9" y="172.5" textLength="31.4" lengthAdjust="spacingAndGlyphs" font-family='"Liberation Sans", sans-serif' font-size="7.4" fill="#1e1e1e" stroke="#1e1e1e" stroke-width="0.2">of normal</text>
<line x1="72" y1="167.3" x2="105.8" y2="167.3" stroke="#000" stroke-width="2"/>
<text x="132.7" y="162.6" textLength="29.2" lengthAdjust="spacingAndGlyphs" font-family='"Liberation Sans", sans-serif' font-size="7.4" fill="#1e1e1e" stroke="#1e1e1e" stroke-width="0.2">Patient 1</text>
<line x1="169.3" y1="160.6" x2="199.6" y2="160.6" stroke="#4F7EBD" stroke-width="1.6"/>
<text x="132.7" y="176.5" textLength="29.2" lengthAdjust="spacingAndGlyphs" font-family='"Liberation Sans", sans-serif' font-size="7.4" fill="#1e1e1e" stroke="#1e1e1e" stroke-width="0.2">Patient 2</text>
<line x1="170.4" y1="176.2" x2="200" y2="176.2" stroke="#9BBB59" stroke-width="1.6"/>
<text x="208.9" y="162.8" textLength="29.2" lengthAdjust="spacingAndGlyphs" font-family='"Liberation Sans", sans-serif' font-size="7.4" fill="#1e1e1e" stroke="#1e1e1e" stroke-width="0.2">Patient 3</text>
<line x1="243.4" y1="160.6" x2="273.5" y2="160.6" stroke="#C0504D" stroke-width="1.6"/>
<text x="208.9" y="176.9" textLength="29.2" lengthAdjust="spacingAndGlyphs" font-family='"Liberation Sans", sans-serif' font-size="7.4" fill="#1e1e1e" stroke="#1e1e1e" stroke-width="0.2">Patient 4</text>
<line x1="244.3" y1="176.2" x2="274.2" y2="176.2" stroke="#4BACC6" stroke-width="1.6"/>
<text x="285.5" y="162.2" textLength="29.2" lengthAdjust="spacingAndGlyphs" font-family='"Liberation Sans", sans-serif' font-size="7.4" fill="#1e1e1e" stroke="#1e1e1e" stroke-width="0.2">Patient 5</text>
<line x1="319.3" y1="160.7" x2="349.2" y2="160.7" stroke="#8068A8" stroke-width="1.6"/>
<text x="285.5" y="175.8" textLength="29.2" lengthAdjust="spacingAndGlyphs" font-family='"Liberation Sans", sans-serif' font-size="7.4" fill="#1e1e1e" stroke="#1e1e1e" stroke-width="0.2">Patient 6</text>
<line x1="319.3" y1="176.5" x2="349.2" y2="176.5" stroke="#F39A55" stroke-width="1.6"/>
</svg>
</body></html>
